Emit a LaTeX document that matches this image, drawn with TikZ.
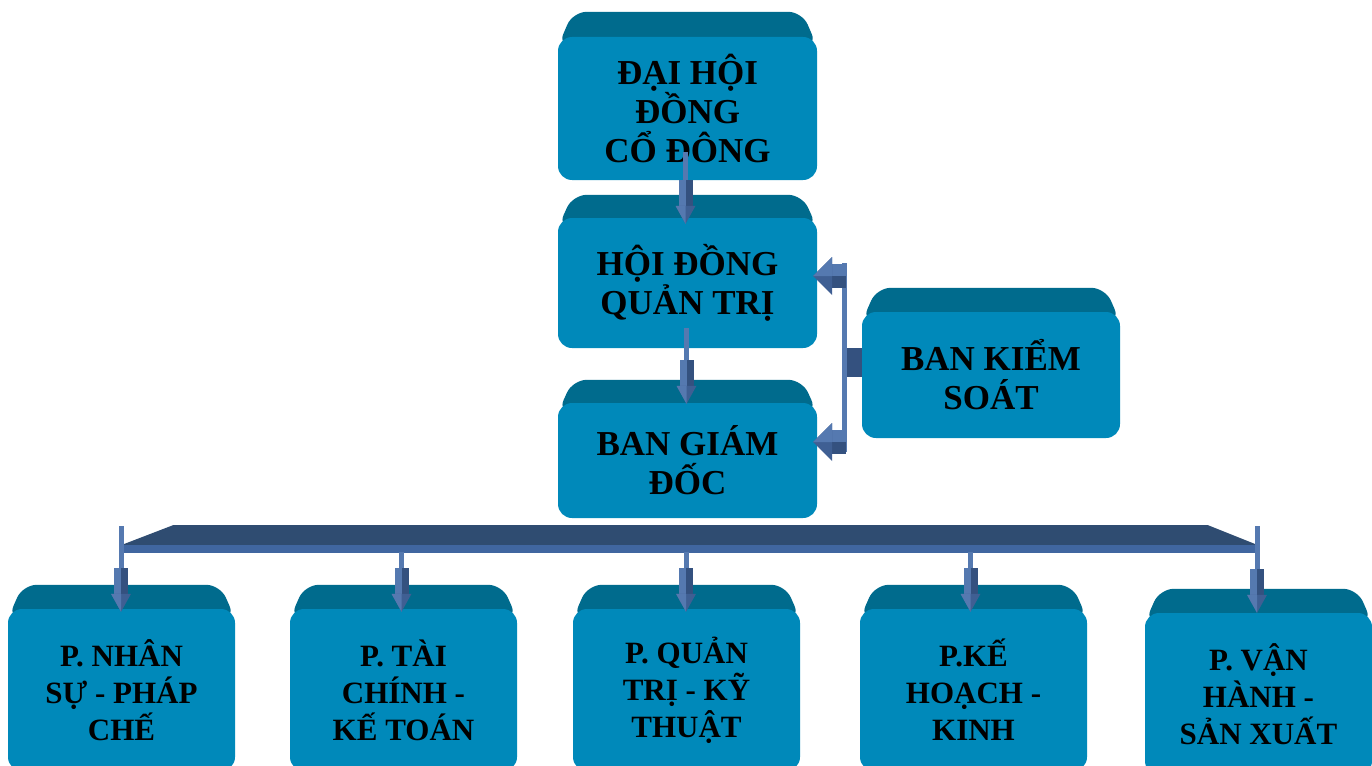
\documentclass[tikz,border=0pt]{standalone}
\usepackage{fontspec}
\setmainfont{Liberation Serif}
\usetikzlibrary{calc}
\pgfdeclarelayer{bg}
\pgfsetlayers{bg,main}
\definecolor{frontc}{HTML}{0089BA}
\definecolor{topc}{HTML}{006B8D}
\definecolor{arrlight}{HTML}{5579B0}
\definecolor{arrdark}{HTML}{34517F}
\definecolor{arrhead}{HTML}{3F5F93}
\definecolor{busdark}{HTML}{2F4C71}
\definecolor{buslight}{HTML}{4066A0}
\tikzset{
  bigbox/.style={fill=frontc, rounded corners=14pt, inner sep=0pt, align=center,
    font=\fontsize{35}{39}\selectfont\bfseries},
  smallbox/.style={fill=frontc, rounded corners=14pt, inner sep=0pt, align=center,
    minimum width=227pt, minimum height=162pt,
    font=\fontsize{31}{37}\selectfont\bfseries},
}
\newcommand\topface[2]{%
  \begin{pgfonlayer}{bg}
  \fill[topc, rounded corners=14pt] ($(#1.north west)+(0,10)$) -- ($(#1.north west)+(15,-#2)$)
    -- ($(#1.north east)+(-15,-#2)$) -- ($(#1.north east)+(0,10)$) -- cycle;
  \end{pgfonlayer}}
% vertical block arrow: #1 start, #2 tip
\newcommand\downarr[2]{%
  \coordinate (aS) at (#2 |- #1);
  \coordinate (aT) at (#2);
  \fill[arrlight] ($(aS)+(-2.5,0)$) rectangle ($(aT)+(2.5,-44)$);
  \fill[arrlight] ($(aT)+(-7,-44)$) rectangle ($(aT)+(0,-18)$);
  \fill[arrdark] ($(aT)+(0,-44)$) rectangle ($(aT)+(7,-18)$);
  \fill[arrhead] ($(aT)+(-10,-18)$) -- ($(aT)+(10,-18)$) -- (aT) -- cycle;
  \fill[arrlight] ($(aT)+(-10,-18)$) -- ($(aT)+(0,-18)$) -- (aT) -- cycle;
}
% horizontal block arrow pointing left: #1 tip
\newcommand\leftarr[1]{%
  \coordinate (aT) at (#1);
  \fill[arrlight] ($(aT)+(19,-12)$) rectangle ($(aT)+(33,0)$);
  \fill[arrdark] ($(aT)+(19,0)$) rectangle ($(aT)+(33,12)$);
  \fill[arrhead] ($(aT)+(19,-19)$) -- ($(aT)+(19,19)$) -- (aT) -- cycle;
  \fill[arrlight] ($(aT)+(19,-19)$) -- ($(aT)+(19,0)$) -- (aT) -- cycle;
}
\begin{document}
\begin{tikzpicture}[x=1pt,y=-1pt]
\useasboundingbox (0,0) rectangle (1372,765);
\begin{pgfonlayer}{bg}
\fill[white] (0,0) rectangle (1372,765);
\end{pgfonlayer}
\clip (0,0) rectangle (1372,765);

% upper boxes
\node[bigbox, minimum width=259pt, minimum height=143pt] (dhd) at (687.5,108.5)
  {ĐẠI HỘI\\ ĐỒNG\\ CỔ ĐÔNG};
\node[bigbox, minimum width=259pt, minimum height=130pt] (hdqt) at (687.5,283)
  {HỘI ĐỒNG\\ QUẢN TRỊ};
\node[bigbox, minimum width=259pt, minimum height=115pt] (bgd) at (687.5,460.5)
  {BAN GIÁM\\ ĐỐC};
\node[bigbox, minimum width=258pt, minimum height=126pt] (bks) at (991,375)
  {BAN KIỂM\\ SOÁT};
\topface{dhd}{25}
\topface{hdqt}{23}
\topface{bgd}{23}
\topface{bks}{24}

% lower boxes
\node[smallbox] (p1) at (121.5,690) {P. NHÂN\\ SỰ - PHÁP\\ CHẾ};
\node[smallbox] (p2) at (403.5,690) {P. TÀI\\ CHÍNH -\\ KẾ TOÁN};
\node[smallbox] (p3) at (686.5,690) {P. QUẢN\\ TRỊ - KỸ\\ THUẬT};
\node[smallbox] (p4) at (973.5,690) {P.KẾ\\ HOẠCH -\\ KINH};
\node[smallbox] (p5) at (1258.5,694) {P. VẬN\\ HÀNH -\\ SẢN XUẤT};
\topface{p1}{24}
\topface{p2}{24}
\topface{p3}{24}
\topface{p4}{24}
\topface{p5}{24}

% vertical arrows between upper boxes
\coordinate (a1s) at ($(dhd.south)+(-2,-28)$);
\coordinate (a1t) at ($(hdqt.north)+(-2,6)$);
\downarr{a1s}{a1t}
\coordinate (a2s) at ($(hdqt.south)+(-1,-20)$);
\coordinate (a2t) at ($(bgd.north)+(-1,1)$);
\downarr{a2s}{a2t}

% control board connector
\coordinate (lt1) at ($(hdqt.east |- 0,276)+(-4,0)$);
\coordinate (lt2) at ($(bgd.east |- 0,442)+(-4,0)$);
\fill[arrlight] ($(lt1)+(29,-13)$) rectangle ($(lt2)+(34,10)$);
\fill[arrdark] ($(bks.west)+(-15,-27)$) rectangle ($(bks.west)+(0,2)$);
\leftarr{lt1}
\leftarr{lt2}

% bus bar
\coordinate (busL) at (p1.north |- 0,545);
\coordinate (busR) at ($(p5.north |- 0,545)+(-1,0)$);
\fill[busdark] (busL) -- ($(busL)+(52,-20)$) -- ($(busR)+(-50,-20)$) -- (busR) -- cycle;
\fill[buslight] (busL) rectangle ($(busR)+(0,8)$);

% arrows to departments
\coordinate (b1s) at (0,526);
\coordinate (b1t) at ($(p1.north)+(-0.5,3)$);
\downarr{b1s}{b1t}
\coordinate (b2s) at (0,552);
\coordinate (b2t) at ($(p2.north)+(-2,3)$);
\downarr{b2s}{b2t}
\coordinate (b3t) at ($(p3.north)+(-0.5,3)$);
\downarr{b2s}{b3t}
\coordinate (b4t) at ($(p4.north)+(-3,3)$);
\downarr{b2s}{b4t}
\coordinate (b5t) at ($(p5.north)+(-1.5,0)$);
\downarr{b1s}{b5t}
\end{tikzpicture}
\end{document}
